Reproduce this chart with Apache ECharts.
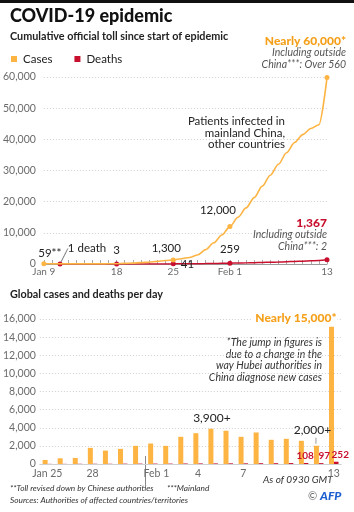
<!DOCTYPE html>
<html>
<head>
<meta charset="utf-8">
<script src="https://cdn.jsdelivr.net/npm/echarts@6/dist/echarts.min.js"></script>
<style>
html,body{margin:0;padding:0;background:#fff;}
#chart{width:354px;height:512px;}
</style>
</head>
<body>
<div id="chart"></div>
<script>
// ---------- DATA ----------
const topDates = ['Jan 9','Jan 10','Jan 11','Jan 12','Jan 13','Jan 14','Jan 15','Jan 16','Jan 17','Jan 18',
  'Jan 19','Jan 20','Jan 21','Jan 22','Jan 23','Jan 24','Jan 25','Jan 26','Jan 27','Jan 28','Jan 29','Jan 30',
  'Jan 31','Feb 1','Feb 2','Feb 3','Feb 4','Feb 5','Feb 6','Feb 7','Feb 8','Feb 9','Feb 10','Feb 11','Feb 12','Feb 13'];
const cumCases = [59,55,45,45,45,45,45,45,62,80,
  200,290,440,580,830,1100,1300,1700,2100,2900,4600,6800,
  9300,12000,15000,18000,21300,25000,28500,32000,35700,39000,41500,43500,44700,59800];
const cumDeaths = [null,null,1,1,1,1,1,2,2,3,
  3,4,6,17,25,30,41,56,80,106,132,170,
  213,259,304,361,425,490,563,636,722,811,908,1016,1113,1367];
const topTickDates = ['Jan 9','Jan 11','Jan 18','Jan 25','Feb 1','Feb 13'];
const topTickLabels = ['Jan 9','11','18','25','Feb 1','13'];
const casePointDates = ['Jan 9','Jan 25','Feb 1','Feb 13'];
const casePointLabels = ['59**','1,300','12,000','{b|Nearly 60,000*}\n{i|Including outside}\n{i|China***: Over 560}'];
const deathPointDates = ['Jan 11','Jan 18','Jan 25','Feb 1','Feb 13'];
const deathPointLabels = ['1 death','3','41','259','{r|1,367}\n{i|Including outside}\n{i|China***: 2}'];

const barDates = ['Jan 25','Jan 26','Jan 27','Jan 28','Jan 29','Jan 30','Jan 31','Feb 1','Feb 2','Feb 3',
  'Feb 4','Feb 5','Feb 6','Feb 7','Feb 8','Feb 9','Feb 10','Feb 11','Feb 12','Feb 13'];
const dailyCases = [450,630,670,1780,1480,1670,2000,2260,2000,3000,3400,3890,3670,3000,3480,2670,2780,2560,2015,15150];
const dailyDeaths = [15,15,24,26,26,38,43,46,45,57,64,65,73,73,86,89,103,108,97,252];
const barTickDates = ['Jan 25','Jan 28','Feb 1','Feb 4','Feb 7','Feb 13'];
const barTickLabels = ['Jan 25','28','Feb 1','4','7','13'];
const caseBarLabelDates = ['Feb 5','Feb 12','Feb 13'];
const caseBarLabels = ['3,900+','2,000+','Nearly 15,000*'];
const deathBarLabelDates = ['Feb 11','Feb 12','Feb 13'];

// ---------- STYLE ----------
const FONT = 'Lato';
const ORANGE = '#fdb443';
const ORANGE_TXT = '#f5a01a';
const RED = '#c8102e';
const AXIS_TXT = '#6b6b6b';
const fmt = v => v.toLocaleString('en-US');

const chart = echarts.init(document.getElementById('chart'), null, {renderer: 'canvas'});

const caseLabelCfg = {
  'Jan 9':  {position: 'top', offset: [6, 3]},
  'Jan 25': {position: 'top', offset: [-7, 2]},
  'Feb 1':  {position: 'top', offset: [-12, -3]},
  'Feb 13': {position: 'top', align: 'right', offset: [19, 0]}
};
const deathLabelCfg = {
  'Jan 11': {position: 'top'},
  'Jan 18': {position: 'top', offset: [2, 2]},
  'Jan 25': {position: 'right', offset: [-3, -4]},
  'Feb 1':  {position: 'top', offset: [4, 2]},
  'Feb 13': {position: 'top', align: 'right', offset: [13, -4]}
};
const richTop = {
  b: {fontFamily: FONT, fontWeight: 900, fontSize: 12, color: ORANGE_TXT, align: 'right', lineHeight: 12},
  r: {fontFamily: FONT, fontWeight: 900, fontSize: 12, color: RED, align: 'right', lineHeight: 12},
  i: {fontFamily: FONT, fontStyle: 'italic', fontSize: 10.5, color: '#555', align: 'right', lineHeight: 11.5}
};

function pointData(values, markDates, markLabels, cfg, withGuide) {
  return values.map((v, i) => {
    const d = topDates[i];
    const k = markDates.indexOf(d);
    if (k < 0) return {value: v, symbolSize: 0};
    const item = {
      value: v,
      symbolSize: 5,
      label: Object.assign({show: true, formatter: markLabels[k], fontFamily: FONT, fontSize: 11.5,
        color: '#222', rich: richTop}, cfg[d])
    };
    if (withGuide && d === 'Jan 11') {
      item.labelLine = {show: true, smooth: 0.6, lineStyle: {color: '#444', width: 0.8}};
    }
    return item;
  });
}

const caseBarData = dailyCases.map((v, i) => {
  const k = caseBarLabelDates.indexOf(barDates[i]);
  if (k < 0) return v;
  const d = barDates[i];
  const last = d === 'Feb 13';
  const txt = d === 'Feb 12' ? caseBarLabels[k] + '\n{s|}{l|}' : caseBarLabels[k];
  return {value: v, label: {show: true, formatter: txt, position: 'top',
    distance: d === 'Feb 12' ? 1 : 4,
    align: last ? 'right' : 'center',
    offset: last ? [6, 2] : (d === 'Feb 12' ? [-4, 0] : [1, 0]),
    fontFamily: FONT, fontSize: 12, fontWeight: last ? 900 : 'normal', lineHeight: 13,
    color: last ? ORANGE_TXT : '#222', backgroundColor: last ? '#fff' : 'transparent', padding: last ? [0, 1, 0, 3] : 0,
    rich: {s: {width: 7, height: 7, lineHeight: 8}, l: {width: 1, height: 6, backgroundColor: '#999', lineHeight: 8}}}};
});
const deathBarData = dailyDeaths.map((v, i) => {
  if (deathBarLabelDates.indexOf(barDates[i]) < 0) return v;
  const d = barDates[i];
  return {value: v, label: {show: true, formatter: fmt(v), position: 'top', distance: 2,
    offset: [d === 'Feb 13' ? 4 : (d === 'Feb 12' ? 3 : -1), 0],
    fontFamily: FONT, fontSize: 10, fontWeight: 'bold', color: RED}};
});

const option = {
  animation: false,
  backgroundColor: '#fff',
  textStyle: {fontFamily: FONT},
  legend: {
    left: 6, top: 48, itemWidth: 6, itemHeight: 6, itemGap: 22, icon: 'rect',
    data: ['Cases', 'Deaths'],
    textStyle: {fontFamily: FONT, fontSize: 11.5, color: '#222', padding: [0, 0, 0, 1]}
  },
  grid: [
    {left: 41, top: 77, width: 286, height: 187, containLabel: false},
    {left: 36.2, top: 319, width: 305.1, height: 145, containLabel: false}
  ],
  xAxis: [
    {
      gridIndex: 0, type: 'category', data: topDates, boundaryGap: false,
      axisLine: {lineStyle: {color: '#9a9a9a', width: 1}},
      axisTick: {show: true, inside: true, length: 4, interval: 0, lineStyle: {color: '#aaa'}},
      axisLabel: {interval: (i, v) => topTickDates.indexOf(v) >= 0, showMinLabel: true, hideOverlap: false,
        formatter: v => topTickLabels[topTickDates.indexOf(v)],
        color: AXIS_TXT, fontSize: 10, fontFamily: FONT, margin: 3},
      splitLine: {show: false}
    },
    {
      gridIndex: 1, type: 'category', data: barDates, boundaryGap: true,
      axisLine: {lineStyle: {color: '#d0d0d0', width: 1}},
      axisTick: {show: false},
      axisLabel: {interval: (i, v) => barTickDates.indexOf(v) >= 0,
        formatter: v => v === 'Feb 1' ? '{f|' + barTickLabels[barTickDates.indexOf(v)] + '}' : barTickLabels[barTickDates.indexOf(v)],
        rich: {f: {padding: [0, 0, 0, 7], color: AXIS_TXT, fontSize: 10.5, fontFamily: FONT}},
        color: AXIS_TXT, fontSize: 10.5, fontFamily: FONT, margin: 4},
      splitLine: {show: false}
    }
  ],
  yAxis: [
    {
      gridIndex: 0, type: 'value', min: 0, max: 60000, interval: 10000,
      axisLine: {show: false}, axisTick: {show: false},
      axisLabel: {formatter: fmt, color: AXIS_TXT, fontSize: 10.5, fontFamily: FONT, margin: 8},
      splitLine: {lineStyle: {color: '#cfcfcf', type: [1, 2], width: 1}}
    },
    {
      gridIndex: 1, type: 'value', min: 0, max: 16000, interval: 2000,
      axisLine: {show: false}, axisTick: {show: false},
      axisLabel: {formatter: fmt, color: AXIS_TXT, fontSize: 10.5, fontFamily: FONT, margin: 4},
      splitLine: {lineStyle: {color: '#cfcfcf', type: [1, 2], width: 1}}
    }
  ],
  series: [
    {
      name: 'Deaths', type: 'line', xAxisIndex: 0, yAxisIndex: 0, z: 3,
      data: pointData(cumDeaths, deathPointDates, deathPointLabels, deathLabelCfg, true),
      symbol: 'circle', showSymbol: true, smooth: 0.3,
      lineStyle: {color: RED, width: 1.5}, itemStyle: {color: RED},
      labelLine: {show: false},
      labelLayout: p => (topDates[p.dataIndex] === 'Jan 11' ? {dx: 27, dy: -2} : {}),
      emphasis: {disabled: true}
    },
    {
      name: 'Cases', type: 'line', xAxisIndex: 0, yAxisIndex: 0, z: 4,
      data: pointData(cumCases, casePointDates, casePointLabels, caseLabelCfg, false),
      symbol: 'circle', showSymbol: true, smooth: 0.3, smoothMonotone: 'x',
      lineStyle: {color: ORANGE, width: 1.6}, itemStyle: {color: ORANGE},
      labelLine: {show: false},
      emphasis: {disabled: true}
    },
    {
      name: 'Cases', type: 'bar', xAxisIndex: 1, yAxisIndex: 1, data: caseBarData,
      barWidth: 5, barGap: '0%', itemStyle: {color: ORANGE}, emphasis: {disabled: true}
    },
    {
      name: 'Deaths', type: 'bar', xAxisIndex: 1, yAxisIndex: 1, data: deathBarData,
      barWidth: 4.5, itemStyle: {color: RED}, emphasis: {disabled: true}
    }
  ],
  graphic: [
    {type: 'rect', left: 0, top: 0, shape: {width: 354, height: 3}, style: {fill: '#111'}},
    {type: 'text', x: 10, y: 7, style: {text: 'COVID-19 epidemic', font: '900 18px Lato', fill: '#111'}},
    {type: 'text', x: 10, y: 31, style: {text: 'Cumulative official toll since start of epidemic', font: 'bold 10.8px Lato', fill: '#222'}},
    {type: 'text', x: 10, y: 289, style: {text: 'Global cases and deaths per day', font: 'bold 10.8px Lato', fill: '#222'}},
    {type: 'text', x: 285, y: 116, style: {text: 'Patients infected in\nmainland China,\nother countries', font: '11.5px Lato', fill: '#222', align: 'right', lineHeight: 11.5}},
    {type: 'text', x: 322, y: 337, style: {text: '*The jump in figures is\ndue to a change in the\nway Hubei authorities in\nChina diagnose new cases', font: 'italic 10.5px Lato', fill: '#333', align: 'right', lineHeight: 11.5, backgroundColor: '#fff', padding: [0, 0, 0, 4]}},
    {type: 'text', x: 263, y: 475, style: {text: 'As of 0930 GMT', font: 'italic 10px Lato', fill: '#333'}},
    {type: 'text', x: 10, y: 484, style: {text: '**Toll revised down by Chinese authorities', font: 'italic 8.3px Lato', fill: '#333'}},
    {type: 'text', x: 167, y: 484, style: {text: '***Mainland', font: 'italic 8.3px Lato', fill: '#333'}},
    {type: 'text', x: 10, y: 496, style: {text: 'Sources: Authorities of affected countries/territories', font: 'italic 8.3px Lato', fill: '#333'}},
    {type: 'text', x: 308, y: 491, style: {text: '©', font: '11px Lato', fill: '#666'}},
    {type: 'text', x: 320, y: 490, style: {text: 'AFP', font: 'italic 900 12px Lato', fill: '#1d5fd1'}}
  ]
};
chart.setOption(option);

const pA = chart.convertToPixel({xAxisIndex: 1, yAxisIndex: 1}, ['Jan 31', 0]);
const pB = chart.convertToPixel({xAxisIndex: 1, yAxisIndex: 1}, ['Feb 1', 0]);
const sx = Math.round((pA[0] + pB[0]) / 2) + 0.5;
option.graphic.push({type: 'line', shape: {x1: sx, y1: pA[1] - 8, x2: sx, y2: pA[1] + 23}, style: {stroke: '#888', lineWidth: 1}});
chart.setOption({graphic: option.graphic});
</script>
</body>
</html>
